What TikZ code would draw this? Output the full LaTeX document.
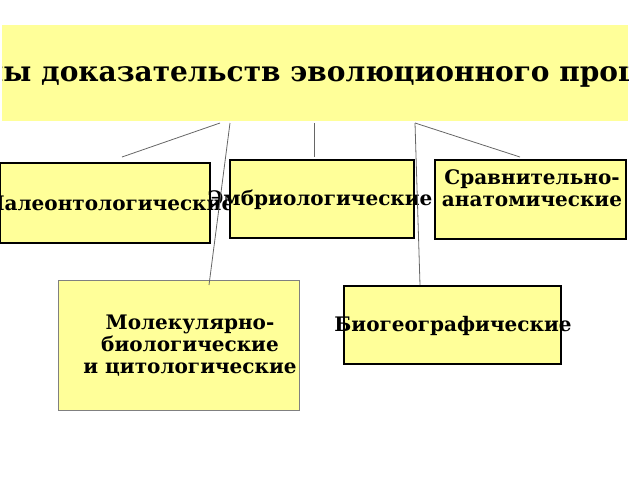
\documentclass[tikz,border=0pt]{standalone}
\usepackage{fontspec}
\setmainfont{DejaVu Serif}
\usetikzlibrary{positioning}
\definecolor{boxyellow}{HTML}{FFFF99}
\tikzset{
  kind/.style={draw=black, line width=1.6pt, fill=boxyellow, inner sep=0pt},
  kindtext/.style={font=\bfseries\fontsize{20}{22}\selectfont, align=center},
  link/.style={draw=gray!80!black, line width=0.8pt}
}
\begin{document}
\begin{tikzpicture}[x=1pt, y=-1pt]
    \useasboundingbox (0,0) rectangle (640,480);
    % title
    \node[kind, draw=none, minimum width=626pt, minimum height=96pt] (title) at (315,73) {};
    \begin{scope}
      \clip (2,25) rectangle (628,121);
      \node[kindtext, font=\bfseries\fontsize{28}{32}\selectfont] (titletext) at (325,74)
        {Типы доказательств эволюционного процесса};
    \end{scope}
    % kinds of evidence
    \node[kind, minimum width=210pt, minimum height=80pt] (paleo) at (105,203) {};
    \node[kindtext] (paleotext) at (110,203) {Палеонтологические};
    \node[kind, minimum width=184pt, minimum height=78pt] (embryo) at (322,199) {};
    \node[kindtext] (embryotext) at (320,200) {Эмбриологические};
    \node[kind, minimum width=191pt, minimum height=79pt] (anat) at (530.5,199.5) {};
    \node[kindtext] (anattext) at (532,188) {Сравнительно-\\анатомические};
    \node[kind, draw=gray, thin, minimum width=241pt, minimum height=130pt] (molec) at (178.5,345) {};
    \node[kindtext] (molectext) at (190,346) {Молекулярно-\\биологические\\и цитологические};
    \node[kind, minimum width=217pt, minimum height=78pt] (biogeo) at (452.5,325) {};
    \node[kindtext] (biogeotext) at (453,326) {Биогеографические};
    % connectors
    \coordinate (t1) at (220,123); \coordinate (t2) at (230,123);
    \coordinate (t3) at (314,123); \coordinate (t4) at (415,123);
    \coordinate (p1) at (122,157); \coordinate (p2) at (209,285);
    \coordinate (p3) at (314,157); \coordinate (p4) at (520,157);
    \coordinate (p5) at (420,285);
    \draw[link] (t1) -- (p1);
    \draw[link] (t2) -- (p2);
    \draw[link] (t3) -- (p3);
    \draw[link] (t4) -- (p4);
    \draw[link] (t4) -- (p5);
\end{tikzpicture}
\end{document}
